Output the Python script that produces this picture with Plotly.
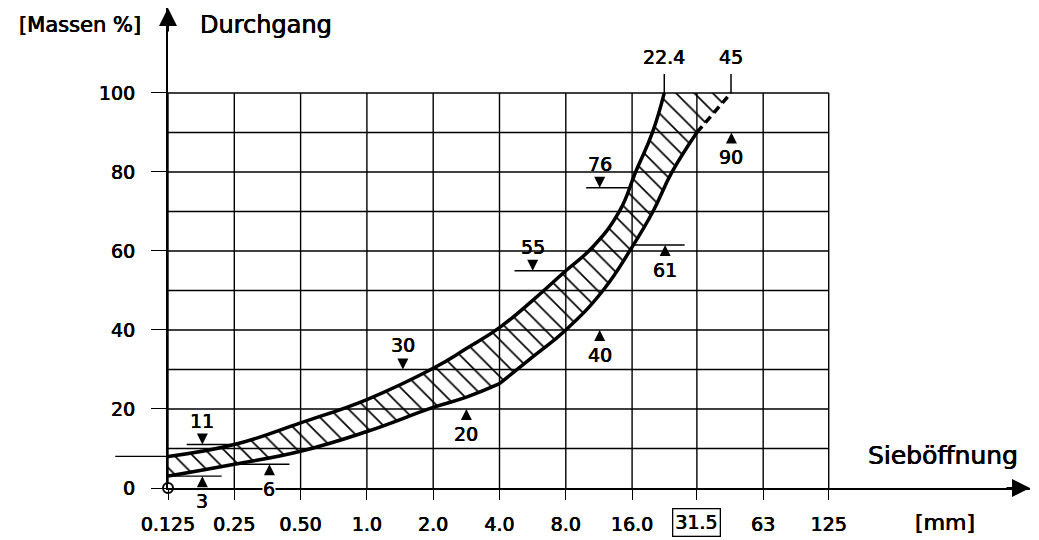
import math
import plotly.graph_objects as go

# ---------------- data ----------------
sieve_ticks = [0.125, 0.25, 0.5, 1, 2, 4, 8, 16, 31.5, 63, 125]
sieve_labels = ["0.125", "0.25", "0.50", "1.0", "2.0", "4.0", "8.0", "16.0", "", "63", "125"]
boxed_tick = 31.5
y_grid = [0, 10, 20, 30, 40, 50, 60, 70, 80, 90, 100]
y_ticks = [0, 20, 40, 60, 80, 100]

# upper limit curve (finer grading, max 22.4 mm)
upper_x = [0.125, 0.25, 0.5, 1, 2, 2.83, 4, 5.66, 8, 10.6, 14, 16.6, 19.8, 22.4]
upper_y = [8, 11, 16.5, 22.4, 30.3, 35.3, 40.6, 47.5, 55, 61, 70, 80, 90, 100]
# lower limit curve (coarser grading, max 45 mm)
lower_a_x = [0.125, 0.25, 0.5, 1, 2, 2.83, 4]
lower_a_y = [3, 6, 9.3, 14.3, 20.4, 23, 26.4]
lower_b_x = [4, 5.66, 8, 11.8, 16, 19.9, 24.3, 31.5]
lower_b_y = [26.4, 33.2, 40, 50, 61, 70, 80, 90]
lower_ext_x = [31.5, 45]
lower_ext_y = [90, 100]

# value markers
mark_text = ["8", "11", "3", "6", "30", "20", "55", "40", "76", "61", "90"]
mark_x = [0.086, 0.179, 0.179, 0.361, 1.457, 2.83, 5.66, 11.4, 11.4, 22.6, 45.2]
mark_y = [8, 11, 3, 6, 30, 20, 55, 40, 76, 61.5, 90]
mark_dir = ["down", "down", "up", "up", "down", "up", "down", "up", "down", "up", "up"]

# short reference lines (value, from, to)
ref_y = [8, 11, 3, 6, 55, 76, 61.5]
ref_x0 = [0.072, 0.152, 0.125, 0.265, 4.68, 9.9, 16.0]
ref_x1 = [0.125, 0.25, 0.219, 0.445, 8.0, 15.8, 27.7]

# maximum grain sizes
dmax_text = ["22.4", "45"]
dmax_x = [22.4, 45]

# ---------------- layout constants ----------------
W, H = 1039, 540
ML, MR, MT, MB = 168, 9, 8, 52
PX_OCT = 66.3
x0_log = math.log10(0.125)
x1_log = x0_log + (W - ML - MR) / PX_OCT * math.log10(2)
y_top = 121.5
FAM = "DejaVu Sans"
BLK = "black"
SHADOW = "0.35px 0 0 black, -0.35px 0 0 black"


def fnt(size):
    return dict(family=FAM, size=size, color=BLK, shadow=SHADOW)


def xpaper(v):
    return (math.log10(v) - x0_log) / (x1_log - x0_log)


def px2paper(px, py):
    return (px - ML) / (W - ML - MR), (H - MB - py) / (H - MT - MB)


fig = go.Figure()

hatch = dict(shape="\\", size=13, solidity=0.13, fgcolor=BLK, bgcolor="white", fillmode="replace")
SM = 1.3

# hatched band (pieces so the kinks stay sharp)
fig.add_trace(go.Scatter(x=lower_a_x, y=lower_a_y, mode="lines",
                         line=dict(width=0, shape="spline", smoothing=SM), hoverinfo="skip"))
fig.add_trace(go.Scatter(x=[v for v in upper_x if v <= 4], y=[u for v, u in zip(upper_x, upper_y) if v <= 4],
                         mode="lines", line=dict(width=0, shape="spline", smoothing=SM), fill="tonexty",
                         fillcolor="rgba(0,0,0,0)", fillpattern=hatch, hoverinfo="skip"))
fig.add_trace(go.Scatter(x=lower_b_x + lower_ext_x[1:], y=lower_b_y + lower_ext_y[1:],
                         mode="lines", line=dict(width=0, shape="linear"), hoverinfo="skip"))
fig.add_trace(go.Scatter(x=[v for v in upper_x if v >= 4], y=[u for v, u in zip(upper_x, upper_y) if v >= 4],
                         mode="lines", line=dict(width=0, shape="spline", smoothing=SM), fill="tonexty",
                         fillcolor="rgba(0,0,0,0)", fillpattern=hatch, hoverinfo="skip"))

# grid
gx, gy = [], []
for t in sieve_ticks:
    gx += [t, t, None]
    gy += [0, 100, None]
for g in y_grid[1:]:
    gx += [sieve_ticks[0], sieve_ticks[-1], None]
    gy += [g, g, None]
fig.add_trace(go.Scatter(x=gx, y=gy, mode="lines", line=dict(color=BLK, width=1.4), hoverinfo="skip"))

# leader lines to max grain labels
lx, ly = [], []
for d in dmax_x:
    lx += [d, d, None]
    ly += [100, 104.8, None]
fig.add_trace(go.Scatter(x=lx, y=ly, mode="lines", line=dict(color=BLK, width=1.5), hoverinfo="skip"))

# curves
fig.add_trace(go.Scatter(x=upper_x, y=upper_y, mode="lines",
                         line=dict(color=BLK, width=3.5, shape="spline", smoothing=SM), hoverinfo="skip"))
fig.add_trace(go.Scatter(x=lower_a_x, y=lower_a_y, mode="lines",
                         line=dict(color=BLK, width=3.5, shape="spline", smoothing=SM), hoverinfo="skip"))
fig.add_trace(go.Scatter(x=lower_b_x, y=lower_b_y, mode="lines",
                         line=dict(color=BLK, width=3.5, shape="spline", smoothing=SM), hoverinfo="skip"))
fig.add_trace(go.Scatter(x=lower_ext_x, y=lower_ext_y, mode="lines",
                         line=dict(color=BLK, width=3.5, dash="8px,5px"), hoverinfo="skip"))

# value markers (triangles)
fig.add_trace(go.Scatter(x=mark_x, y=mark_y, mode="markers", cliponaxis=False,
                         marker=dict(symbol=["arrow-" + d for d in mark_dir], size=11, color=BLK,
                                     line=dict(width=0)), hoverinfo="skip"))

# origin circle
fig.add_trace(go.Scatter(x=[sieve_ticks[0]], y=[y_grid[0]], mode="markers", cliponaxis=False,
                         marker=dict(symbol="circle", size=10, color="white", line=dict(color=BLK, width=2)),
                         hoverinfo="skip"))

shapes = []
for v, a, b in zip(ref_y, ref_x0, ref_x1):
    shapes.append(dict(type="line", xref="paper", yref="y", x0=xpaper(a), x1=xpaper(b), y0=v, y1=v,
                       line=dict(color=BLK, width=1.4)))

ann = []
for t, x, y, d in zip(mark_text, mark_x, mark_y, mark_dir):
    ann.append(dict(x=math.log10(x), y=y, xref="x", yref="y", text=t, showarrow=False,
                    yshift=24 if d == "down" else -25, font=fnt(19),
                    bgcolor="white" if t == "6" else "rgba(0,0,0,0)", borderpad=0))
for t, x in zip(dmax_text, dmax_x):
    ann.append(dict(x=math.log10(x), y=100, xref="x", yref="y", text=t, showarrow=False, yshift=36,
                    font=fnt(19)))
# boxed tick label
ann.append(dict(x=math.log10(boxed_tick), y=0, xref="x", yref="y", text="31.5", showarrow=False,
                yshift=-34, font=fnt(19), bordercolor=BLK, borderwidth=1.3, borderpad=2))
# axis arrows
ann.append(dict(x=x1_log, y=0, xref="x", yref="y", text="", showarrow=True, ax=-25, ay=0,
                arrowhead=2, arrowsize=1.8, arrowwidth=2, arrowcolor=BLK, standoff=0))
ann.append(dict(x=x0_log, y=y_top, xref="x", yref="y", text="", showarrow=True, ax=0, ay=25,
                arrowhead=2, arrowsize=1.8, arrowwidth=2, arrowcolor=BLK, standoff=0))


def text_at(px, py, text, size, anchor):
    xp, yp = px2paper(px, py)
    return dict(x=xp, y=yp, xref="paper", yref="paper", text=text, showarrow=False,
                xanchor=anchor, yanchor="middle", font=fnt(size))


ann.append(text_at(80, 25, "[Massen %]", 21, "center"))
ann.append(text_at(198, 25, "Durchgang", 24, "left"))
ann.append(text_at(1020, 455, "Sieböffnung", 25, "right"))
ann.append(text_at(945, 522, "[mm]", 22, "center"))

fig.update_layout(
    width=W, height=H, margin=dict(l=ML, r=MR, t=MT, b=MB),
    paper_bgcolor="white", plot_bgcolor="white", showlegend=False,
    shapes=shapes, annotations=ann,
    xaxis=dict(type="log", range=[x0_log, x1_log], tickvals=sieve_ticks, ticktext=sieve_labels,
               showgrid=False, zeroline=False, showline=True, linecolor=BLK, linewidth=2,
               ticks="outside", ticklen=10, tickwidth=1.4, tickcolor=BLK, ticklabelstandoff=8,
               tickfont=fnt(19), fixedrange=True, automargin=False),
    yaxis=dict(range=[0, y_top], tickvals=y_ticks, showgrid=False, zeroline=False, showline=True,
               linecolor=BLK, linewidth=2, ticks="outside", ticklen=15, tickwidth=1.4, tickcolor=BLK,
               ticklabelstandoff=12, tickfont=fnt(19), fixedrange=True, automargin=False),
)

fig.write_html("out.html", config={"displayModeBar": False},
               post_script="document.body.style.margin='0';")
